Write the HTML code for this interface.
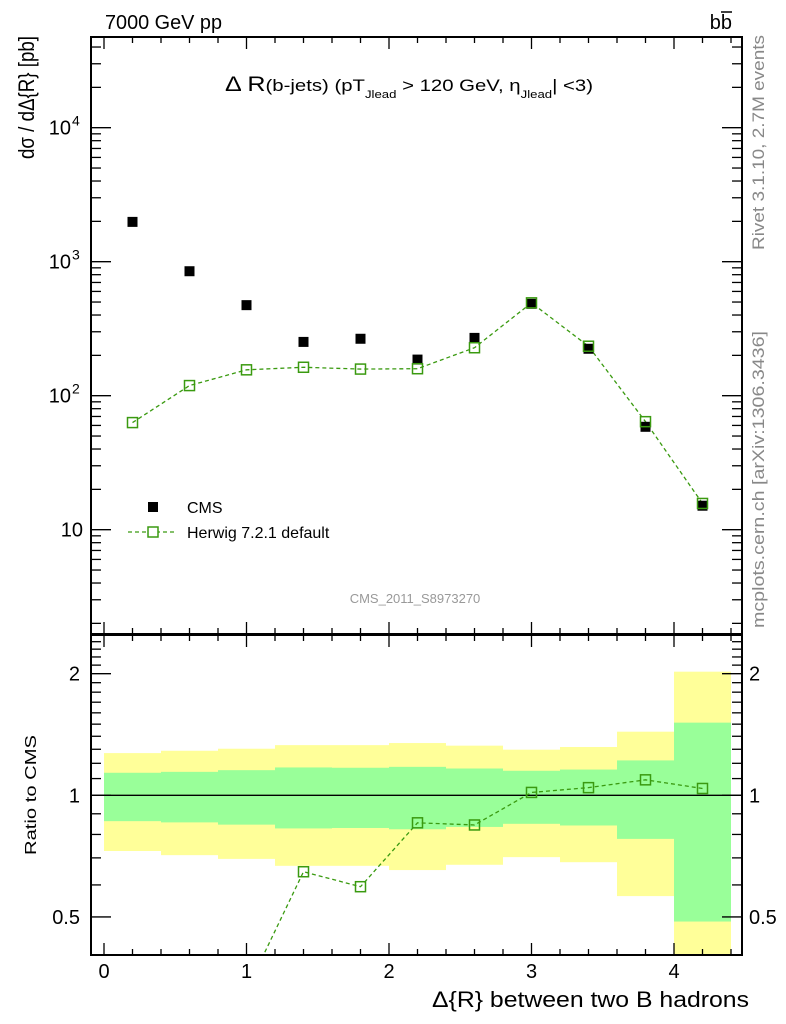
<!DOCTYPE html>
<html><head><meta charset="utf-8"><style>
html,body{margin:0;padding:0;background:#fff;overflow:hidden;width:786px;height:1024px;}
svg{display:block;font-family:"Liberation Sans",sans-serif;}
</style></head><body>
<svg id="chart" width="786" height="1024" viewBox="0 0 786 1024" xmlns="http://www.w3.org/2000/svg">
<defs>
<clipPath id="mainClip"><rect x="91" y="37" width="651" height="597"/></clipPath>
<clipPath id="ratioClip"><rect x="91" y="635" width="651" height="320"/></clipPath>
</defs>
<g id="bands" clip-path="url(#ratioClip)"></g>
<g id="ratioLines" clip-path="url(#ratioClip)"></g>
<g id="mainMarks" clip-path="url(#mainClip)"></g>
<g id="axes"></g>
<text x="105" y="29" font-size="20" textLength="117" lengthAdjust="spacingAndGlyphs">7000 GeV pp</text>
<text x="732" y="29" font-size="20" text-anchor="end">bb</text>
<line x1="721" y1="12" x2="732" y2="12" stroke="#000" stroke-width="1.5"/>
<text x="0" y="0" font-size="22" text-anchor="end" textLength="123" lengthAdjust="spacingAndGlyphs" transform="translate(34,36) rotate(-90)">dσ / dΔ{R} [pb]</text>
<text x="0" y="0" font-size="16" text-anchor="middle" textLength="120" lengthAdjust="spacingAndGlyphs" transform="translate(36,795) rotate(-90)">Ratio to CMS</text>
<text x="0" y="0" font-size="17" fill="#888" text-anchor="end" textLength="215" lengthAdjust="spacingAndGlyphs" transform="translate(764,35) rotate(-90)">Rivet 3.1.10,  2.7M events</text>
<text x="0" y="0" font-size="17" fill="#888" text-anchor="start" textLength="297" lengthAdjust="spacingAndGlyphs" transform="translate(764,628) rotate(-90)">mcplots.cern.ch [arXiv:1306.3436]</text>
<text x="225" y="91" font-size="17" textLength="368" lengthAdjust="spacingAndGlyphs"><tspan font-size="21">Δ R</tspan>(b-jets) (pT<tspan font-size="11" dy="7">Jlead</tspan><tspan dy="-7"> &gt;  120 GeV, η</tspan><tspan font-size="11" dy="7">Jlead</tspan><tspan dy="-7">| &lt;3)</tspan></text>
<text x="415" y="603" font-size="13" fill="#999" text-anchor="middle">CMS_2011_S8973270</text>
<text x="749" y="1007" font-size="22" text-anchor="end" textLength="317" lengthAdjust="spacingAndGlyphs">Δ{R} between two B hadrons</text>
<g>
<rect x="148" y="502" width="10" height="10" fill="#000"/>
<text x="187" y="513" font-size="16">CMS</text>
<line x1="128" y1="532" x2="175" y2="532" stroke="#3a9a10" stroke-width="1.3" stroke-dasharray="4,3"/>
<rect x="148" y="527" width="10" height="10" fill="#fff" stroke="#3a9a10" stroke-width="1.5"/>
<text x="187" y="538" font-size="16">Herwig 7.2.1 default</text>
</g>
</svg>
<script>
const xCenters = [0.2,0.6,1.0,1.4,1.8,2.2,2.6,3.0,3.4,3.8,4.2];
const binEdges = [0,0.4,0.8,1.2,1.6,2.0,2.4,2.8,3.2,3.6,4.0,4.4];
const cmsValues = [1982,849,474,252,266,186,270,485,224,58.6,15.1];
const herwigValues = [63,119,156,163,158,159,228,493,234,64,15.7];
const statErr = [0.137,0.143,0.154,0.172,0.170,0.176,0.165,0.150,0.158,0.220,0.513];
const totalErr = [0.272,0.289,0.304,0.331,0.331,0.347,0.327,0.297,0.317,0.437,1.023];
const xTickLabels = ["0","1","2","3","4"];
const mainTickExps = [1,2,3,4];
const ratioTickValues = [0.5,1,2];

const NS="http://www.w3.org/2000/svg";
const X0=91,X1=742,MT=37,MB=634,RT=635,RB=955;
function xs(v){return 104+142.5*v;}
function ys(v){return 395.7-134*(Math.log10(v)-2);}
function yr(v){return 795.3-404*Math.log10(v);}
function mk(tag,attrs,parent){const e=document.createElementNS(NS,tag);for(const k in attrs)e.setAttribute(k,attrs[k]);parent.appendChild(e);return e;}
const bands=document.getElementById('bands'),rl=document.getElementById('ratioLines'),mm=document.getElementById('mainMarks'),ax=document.getElementById('axes');

for(let i=0;i<xCenters.length;i++){
  const xa=xs(binEdges[i]),xb=xs(binEdges[i+1]);
  const lo=Math.max(1-totalErr[i],0.01),hi=1+totalErr[i];
  const y=mk('rect',{x:xa,y:yr(hi),width:xb-xa,height:yr(lo)-yr(hi),fill:'#ffff99'},bands);
  
  
  const g=mk('rect',{x:xa,y:yr(1+statErr[i]),width:xb-xa,height:yr(Math.max(1-statErr[i],0.01))-yr(1+statErr[i]),fill:'#99ff99'},bands);
  
  
}
mk('line',{x1:X0,y1:yr(1),x2:X1,y2:yr(1),stroke:'#000','stroke-width':1.3},rl);

const ratios=herwigValues.map((h,i)=>h/cmsValues[i]);
const rp=mk('polyline',{points:xCenters.map((x,i)=>xs(x)+','+yr(ratios[i])).join(' '),fill:'none',stroke:'#3a9a10','stroke-width':1.3,'stroke-dasharray':'4,3'},rl);


ratios.forEach((r,i)=>{
  const s=mk('rect',{x:xs(xCenters[i])-5,y:yr(r)-5,width:10,height:10,fill:'none',stroke:'#3a9a10','stroke-width':1.5},rl);
  
  
});

const hp=mk('polyline',{points:xCenters.map((x,i)=>xs(x)+','+ys(herwigValues[i])).join(' '),fill:'none',stroke:'#3a9a10','stroke-width':1.3,'stroke-dasharray':'4,3'},mm);


cmsValues.forEach((v,i)=>{
  const s=mk('rect',{x:xs(xCenters[i])-5,y:ys(v)-5,width:10,height:10,fill:'#000'},mm);
  
  
});
herwigValues.forEach((v,i)=>{
  const s=mk('rect',{x:xs(xCenters[i])-5,y:ys(v)-5,width:10,height:10,fill:'none',stroke:'#3a9a10','stroke-width':1.5},mm);
  
  
});

const f1=mk('rect',{x:X0,y:MT,width:X1-X0,height:MB-MT,fill:'none',stroke:'#000','stroke-width':2},ax);


const f2=mk('rect',{x:X0,y:RT,width:X1-X0,height:RB-RT,fill:'none',stroke:'#000','stroke-width':2},ax);


function tk(x1,y1,x2,y2){mk('line',{x1,y1,x2,y2,stroke:'#000','stroke-width':1.3},ax);}
for(let k=0;k<=22;k++){
  const v=k*0.2;const x=xs(v);if(x>X1)break;
  const maj=k%5===0;const L=maj?12:6;
  tk(x,MT,x,MT+L);tk(x,MB,x,MB-L);tk(x,RT,x,RT+L);tk(x,RB,x,RB-L);
}
xTickLabels.forEach((t,i)=>{
  const e=mk('text',{x:xs(+t),y:978,'font-size':20,'text-anchor':'middle'},ax);e.textContent=t;
  
  
});
for(let d=0;d<=4;d++){
  for(let m=1;m<=9;m++){
    const v=m*Math.pow(10,d);const y=ys(v);if(y<MT||y>MB)continue;
    const L=m===1?20:10;tk(X0,y,X0+L,y);tk(X1,y,X1-L,y);
  }
}
mainTickExps.forEach(p=>{
  const y=ys(Math.pow(10,p))+7;
  const e=mk('text',{x:p===1?83:71,y:y,'font-size':20,'text-anchor':'end'},ax);
  e.textContent='10';
  
  
  if(p>1){
    const s=mk('text',{x:72,y:y-9,'font-size':14,'text-anchor':'start'},ax);
    s.textContent=String(p);
    
    
  }
});
for(let v=0.4;v<=2.55;v+=0.1){
  const vv=Math.round(v*10)/10;const y=yr(vv);if(y<RT||y>RB)continue;
  const maj=ratioTickValues.includes(vv);const L=maj?20:10;
  tk(X0,y,X0+L,y);tk(X1,y,X1-L,y);
}
ratioTickValues.forEach(v=>{
  const e=mk('text',{x:80,y:yr(v)+7,'font-size':20,'text-anchor':'end'},ax);e.textContent=String(v);
  
  
  const e2=mk('text',{x:749,y:yr(v)+7,'font-size':20,'text-anchor':'start'},ax);e2.textContent=String(v);
  
  
});
</script>
</body></html>
